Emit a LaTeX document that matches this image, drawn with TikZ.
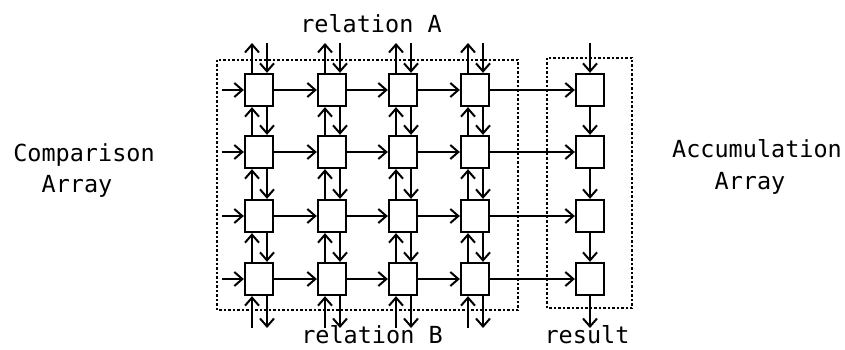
\documentclass[tikz,border=0pt]{standalone}
\usepackage{fontspec}
\newfontfamily\dotfont{DejaVu Sans Mono}
\usetikzlibrary{arrows.meta}
\tikzset{
  cell/.style={draw, line width=2.3pt, minimum width=28pt, minimum height=32pt, inner sep=0pt},
  flow/.style={line width=2.3pt, -{Straight Barb[length=8pt,width=14pt,line width=2pt]}},
  frame/.style={line width=1.5pt, dash pattern=on 2.5pt off 2pt},
  lbl/.style={font=\dotfont\fontsize{23.5}{26}\selectfont, anchor=base, inner sep=0pt},
}
\begin{document}
\begin{tikzpicture}[x=1pt,y=-1pt]
  \useasboundingbox (0,0) rectangle (845,350);
  % dotted frames round the two arrays
  \draw[frame] (217,60) rectangle (518,310);
  \draw[frame] (547,58) rectangle (632,308);
  % cells
  \foreach \r/\y in {1/90,2/152,3/216,4/279}{
    \foreach \c/\x in {1/259,2/332,3/403,4/475}
      \node[cell] (c\r\c) at (\x,\y) {};
    \node[cell] (a\r) at (590,\y) {};
    \coordinate (in\r) at (222,\y);
  }
  % rows
  \foreach \r in {1,...,4}{
    \draw[flow] (in\r) -- (c\r1);
    \draw[flow] (c\r1) -- (c\r2);
    \draw[flow] (c\r2) -- (c\r3);
    \draw[flow] (c\r3) -- (c\r4);
    \draw[flow] (c\r4) -- (a\r);
  }
  % columns of the comparison array
  \foreach \c/\x in {1/259,2/332,3/403,4/475}{
    \coordinate (top\c) at (\x,43);
    \coordinate (bot\c) at (\x,328);
    \draw[flow] ([xshift=-7pt]c1\c.north) -- ([xshift=-7pt]top\c);
    \draw[flow] ([xshift=8pt]top\c) -- ([xshift=8pt]c1\c.north);
    \foreach \r/\s in {1/2,2/3,3/4}{
      \draw[flow] ([xshift=-7pt]c\s\c.north) -- ([xshift=-7pt]c\r\c.south);
      \draw[flow] ([xshift=8pt]c\r\c.south) -- ([xshift=8pt]c\s\c.north);
    }
    \draw[flow] ([xshift=-7pt]bot\c) -- ([xshift=-7pt]c4\c.south);
    \draw[flow] ([xshift=8pt]c4\c.south) -- ([xshift=8pt]bot\c);
  }
  % accumulation column
  \coordinate (atop) at (590,43);
  \coordinate (abot) at (590,328);
  \draw[flow] (atop) -- (a1);
  \draw[flow] (a1) -- (a2);
  \draw[flow] (a2) -- (a3);
  \draw[flow] (a3) -- (a4);
  \draw[flow] (a4) -- (abot);
  % labels
  \node[lbl] (relA) at (371,33) {relation A};
  \node[lbl] (relB) at (372,343) {relation B};
  \node[lbl] (res) at (587,343) {result};
  \node[lbl] (cmp) at (84,161) {Comparison};
  \node[lbl] (cmparr) at (77,192) {Array};
  \node[lbl] (acc) at (757,157) {Accumulation};
  \node[lbl] (accarr) at (750,189) {Array};
\end{tikzpicture}
\end{document}
